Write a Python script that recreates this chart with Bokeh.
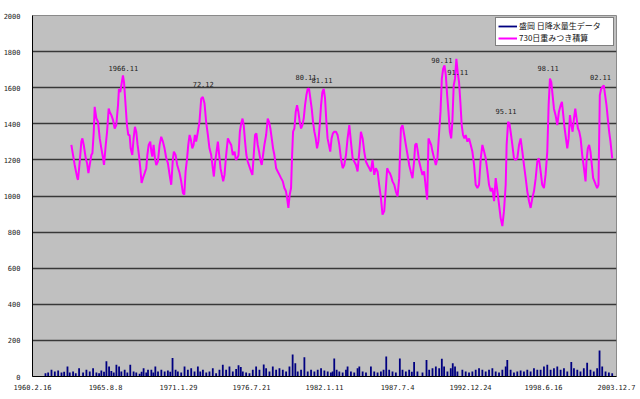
import numpy as np
from bokeh.plotting import figure
from bokeh.models import FixedTicker, Legend, LegendItem, Range1d
from bokeh.embed import file_html
from bokeh.resources import INLINE
from bokeh.core.properties import value

# ---------------- data ----------------
tick_dates = ["1960-02-16", "1965-08-08", "1971-01-29", "1976-07-21", "1982-01-11",
              "1987-07-04", "1992-12-24", "1998-06-16", "2003-12-07"]
tick_labels = ["1960.2.16", "1965.8.8", "1971.1.29", "1976.7.21", "1982.1.11",
               "1987.7.4", "1992.12.24", "1998.6.16", "2003.12.7"]
y_ticks = [0, 200, 400, 600, 800, 1000, 1200, 1400, 1600, 1800, 2000]

# 730-day weighted accumulation (decimal year, mm)
sum_years = [
    1963.04, 1963.29, 1963.49, 1963.54, 1963.67, 1963.79, 1963.87, 1963.97, 1964.12, 1964.22,
    1964.32, 1964.42, 1964.54, 1964.62, 1964.72, 1964.79, 1964.92, 1965.04, 1965.17, 1965.29,
    1965.42, 1965.49, 1965.62, 1965.72, 1965.84, 1965.92, 1966.04, 1966.17, 1966.29, 1966.41,
    1966.54, 1966.61, 1966.71, 1966.79, 1966.91, 1966.99, 1967.11, 1967.21, 1967.31, 1967.41,
    1967.49, 1967.61, 1967.71, 1967.81, 1967.91, 1968.01, 1968.11, 1968.21, 1968.31, 1968.41,
    1968.54, 1968.66, 1968.74, 1968.84, 1968.96, 1969.04, 1969.11, 1969.21, 1969.31, 1969.41,
    1969.53, 1969.66, 1969.78, 1969.91, 1970.03, 1970.16, 1970.28, 1970.41, 1970.53, 1970.66,
    1970.73, 1970.86, 1970.98, 1971.16, 1971.28, 1971.41, 1971.51, 1971.61, 1971.71, 1971.81,
    1971.91, 1972.01, 1972.11, 1972.21, 1972.31, 1972.40, 1972.53, 1972.65,
    1972.78, 1972.90, 1973.03, 1973.15, 1973.28, 1973.40, 1973.53, 1973.65, 1973.73, 1973.83,
    1973.93, 1974.03, 1974.13, 1974.23, 1974.33, 1974.43, 1974.53, 1974.65, 1974.78, 1974.90,
    1975.03, 1975.15, 1975.28, 1975.38, 1975.48, 1975.58, 1975.68, 1975.78, 1975.88, 1975.97,
    1976.07, 1976.17, 1976.27, 1976.40, 1976.52, 1976.62, 1976.72, 1976.82, 1976.92, 1977.02,
    1977.12, 1977.22, 1977.32, 1977.42, 1977.52, 1977.65, 1977.77, 1977.87, 1977.97, 1978.07,
    1978.17, 1978.27, 1978.40, 1978.52, 1978.65, 1978.77, 1978.90, 1979.02, 1979.14, 1979.22,
    1979.32, 1979.42, 1979.52, 1979.59, 1979.67, 1979.77, 1979.87, 1979.97, 1980.07, 1980.17,
    1980.27, 1980.37, 1980.47, 1980.57, 1980.67, 1980.77, 1980.87, 1980.97, 1981.07, 1981.17,
    1981.27, 1981.37, 1981.47, 1981.57, 1981.67, 1981.77, 1981.87, 1981.97, 1982.07, 1982.17,
    1982.26, 1982.36, 1982.46, 1982.56, 1982.66, 1982.76,
    1982.89, 1983.01, 1983.14, 1983.26, 1983.39, 1983.51, 1983.64, 1983.76, 1983.89, 1984.01,
    1984.14, 1984.26, 1984.39, 1984.51, 1984.64, 1984.76, 1984.89, 1985.01, 1985.135, 1985.26,
    1985.39, 1985.51, 1985.63, 1985.76, 1985.88, 1986.01, 1986.13, 1986.26, 1986.38, 1986.51,
    1986.63, 1986.73, 1986.83, 1986.93, 1987.03, 1987.13, 1987.26, 1987.38, 1987.51, 1987.63,
    1987.76, 1987.88, 1988.01, 1988.13, 1988.26, 1988.38, 1988.50, 1988.63, 1988.75, 1988.83,
    1988.93, 1989.03, 1989.13, 1989.25, 1989.38, 1989.50, 1989.63, 1989.73, 1989.83, 1989.93,
    1990.03, 1990.13, 1990.25, 1990.38, 1990.50, 1990.63, 1990.73, 1990.83, 1990.93, 1991.03,
    1991.13, 1991.23, 1991.33, 1991.43, 1991.53, 1991.62, 1991.72, 1991.82, 1991.92, 1992.02,
    1992.12, 1992.22, 1992.32, 1992.42, 1992.52, 1992.62, 1992.75, 1992.87,
    1993.00, 1993.12, 1993.25, 1993.37, 1993.50, 1993.62, 1993.75, 1993.87, 1994.00, 1994.12,
    1994.25, 1994.37, 1994.50, 1994.62, 1994.75, 1994.87, 1995.00, 1995.12, 1995.24, 1995.37,
    1995.49, 1995.62, 1995.69, 1995.80, 1995.90, 1995.99, 1996.12, 1996.24, 1996.37, 1996.49,
    1996.62, 1996.74, 1996.87, 1996.99, 1997.12, 1997.24, 1997.37, 1997.49, 1997.62, 1997.74,
    1997.87, 1997.99, 1998.11, 1998.24, 1998.36, 1998.49, 1998.61, 1998.74, 1998.84, 1998.94,
    1999.04, 1999.14, 1999.24, 1999.36, 1999.49, 1999.61, 1999.74, 1999.84, 1999.94, 2000.04,
    2000.14, 2000.24, 2000.34, 2000.44, 2000.54, 2000.64, 2000.74, 2000.84, 2000.94, 2001.04,
    2001.14, 2001.24, 2001.36, 2001.49, 2001.61, 2001.68, 2001.78, 2001.88, 2001.98, 2002.08,
    2002.18, 2002.28, 2002.38, 2002.48, 2002.58, 2002.68, 2002.78, 2002.88, 2002.98, 2003.08,
    2003.18, 2003.28, 2003.38, 2003.48, 2003.61]
sum_vals = [
    1283, 1172, 1099, 1090, 1191, 1301, 1319, 1283, 1209, 1182,
    1127, 1172, 1227, 1237, 1356, 1494, 1429, 1411, 1319, 1264,
    1209, 1172, 1283, 1356, 1484, 1466, 1448, 1420, 1374, 1393,
    1503, 1594, 1576, 1613, 1668, 1631, 1503, 1393, 1338, 1338,
    1264, 1227, 1319, 1383, 1356, 1283, 1227, 1154, 1072, 1099,
    1127, 1154, 1227, 1283, 1301, 1246, 1218, 1283, 1209, 1172,
    1191, 1283, 1328, 1301, 1264, 1209, 1182, 1117, 1062, 1209,
    1246, 1227, 1172, 1127, 1081, 1016, 1007, 1136, 1200, 1283,
    1338, 1310, 1264, 1283, 1338, 1301, 1356, 1411,
    1539, 1549, 1512, 1411, 1338, 1264, 1227, 1154, 1108, 1191,
    1246, 1301, 1227, 1154, 1117, 1081, 1117, 1227, 1319, 1301,
    1283, 1227, 1246, 1200, 1209, 1227, 1356, 1402, 1429, 1393,
    1301, 1227, 1191, 1163, 1136, 1117, 1227, 1338, 1347, 1283,
    1246, 1200, 1172, 1227, 1283, 1338, 1429, 1411, 1374, 1319,
    1264, 1227, 1154, 1136, 1117, 1099, 1081, 1044, 1026, 989,
    934, 1007, 1044, 1209, 1356, 1374, 1466, 1503, 1466, 1411,
    1374, 1393, 1429, 1503, 1558, 1594, 1594, 1539, 1484, 1411,
    1356, 1319, 1264, 1301, 1393, 1503, 1576, 1594, 1539, 1411,
    1319, 1283, 1246, 1319, 1347, 1356,
    1356, 1338, 1283, 1209, 1154, 1172, 1227, 1319, 1393, 1301,
    1209, 1191, 1172, 1136, 1246, 1356, 1319, 1246, 1191, 1172,
    1154, 1136, 1200, 1117, 1154, 1136, 1062, 989, 897, 916,
    1044, 1154, 1136, 1127, 1108, 1081, 1062, 1026, 998, 1099,
    1374, 1393, 1338, 1283, 1227, 1172, 1136, 1099, 1191, 1283,
    1292, 1246, 1191, 1154, 1117, 1136, 1044, 980, 1319, 1301,
    1283, 1246, 1209, 1172, 1209, 1356, 1466, 1650, 1705, 1723,
    1668, 1558, 1466, 1356, 1319, 1411, 1613, 1650, 1760, 1686,
    1631, 1521, 1393, 1338, 1319, 1338, 1301, 1319,
    1283, 1246, 1172, 1062, 1044, 1062, 1209, 1283, 1246, 1209,
    1136, 1062, 1026, 1044, 971, 1099, 1026, 952, 879, 833,
    916, 1062, 1283, 1411, 1402, 1356, 1283, 1209, 1200, 1209,
    1283, 1319, 1246, 1172, 1099, 1026, 971, 934, 989, 1026,
    1099, 1191, 1209, 1136, 1062, 1044, 1117, 1246, 1503, 1650,
    1631, 1558, 1484, 1448, 1393, 1466, 1503, 1521, 1448, 1374,
    1319, 1264, 1319, 1448, 1393, 1356, 1429, 1484, 1429, 1374,
    1356, 1319, 1227, 1154, 1081, 1191, 1264, 1283, 1246, 1172,
    1099, 1081, 1062, 1044, 1062, 1558, 1594, 1604, 1613, 1558,
    1503, 1429, 1356, 1301, 1209]

# daily precipitation, raw (decimal year, mm) - sampled peaks
rain_years = [
    1961.10, 1961.30, 1961.55, 1961.80, 1962.05, 1962.30, 1962.50, 1962.75, 1962.92, 1963.17,
    1963.37, 1963.62, 1963.92, 1964.17, 1964.42, 1964.67, 1964.92, 1965.12, 1965.29, 1965.49,
    1965.67, 1965.87, 1966.04, 1966.22, 1966.42, 1966.62, 1966.79, 1967.04, 1967.24, 1967.46,
    1967.71, 1967.91, 1968.16, 1968.31, 1968.46, 1968.66, 1968.79, 1969.04, 1969.19, 1969.34,
    1969.54, 1969.79, 1970.04, 1970.28, 1970.46, 1970.63, 1970.86, 1971.03, 1971.28, 1971.53,
    1971.78, 1972.03, 1972.28, 1972.53, 1972.71, 1972.91, 1973.16, 1973.40, 1973.65, 1973.90,
    1974.15, 1974.40, 1974.65, 1974.90, 1975.15, 1975.40, 1975.58, 1975.75, 1975.90, 1976.15,
    1976.40, 1976.65, 1976.90, 1977.15, 1977.47, 1977.65, 1977.90, 1978.15, 1978.40, 1978.65,
    1978.90, 1979.15, 1979.40, 1979.64, 1979.84, 1980.02, 1980.27, 1980.52, 1980.77, 1981.02,
    1981.27, 1981.52, 1981.77, 1982.02, 1982.27, 1982.51, 1982.64, 1982.76, 1982.94, 1983.14,
    1983.39, 1983.64, 1983.76, 1984.01, 1984.26, 1984.51, 1984.64, 1984.89, 1985.14, 1985.51,
    1985.76, 1986.01, 1986.26, 1986.46, 1986.66, 1986.88, 1987.13, 1987.38, 1987.68, 1987.88,
    1988.13, 1988.38, 1988.58, 1988.75, 1989.00, 1989.38, 1989.68, 1989.88, 1990.13, 1990.38,
    1990.63, 1990.83, 1991.00, 1991.25, 1991.50, 1991.65, 1991.82, 1992.00, 1992.37, 1992.62,
    1992.87, 1993.12, 1993.37, 1993.62, 1993.87, 1994.12, 1994.37, 1994.62, 1994.87, 1995.12,
    1995.37, 1995.62, 1995.74, 1995.99, 1996.24, 1996.49, 1996.74, 1996.99, 1997.24, 1997.49,
    1997.74, 1997.99, 1998.24, 1998.49, 1998.74, 1998.99, 1999.24, 1999.49, 1999.74, 1999.99,
    2000.24, 2000.54, 2000.74, 2000.99, 2001.23, 2001.48, 2001.73, 2001.98, 2002.23, 2002.48,
    2002.66, 2002.86, 2003.11, 2003.36, 2003.61]
rain_vals = [
    18, 22, 37, 28, 33, 22, 26, 55, 22, 28,
    18, 46, 22, 37, 28, 46, 22, 18, 33, 26,
    85, 55, 30, 22, 65, 55, 28, 37, 22, 65,
    28, 22, 15, 26, 46, 22, 37, 37, 22, 55,
    28, 37, 28, 33, 26, 103, 37, 28, 22, 55,
    37, 46, 28, 55, 28, 37, 22, 28, 46, 18,
    37, 65, 37, 55, 28, 41, 63, 52, 28, 22,
    18, 37, 55, 37, 66, 46, 28, 55, 37, 46,
    37, 28, 55, 122, 74, 28, 37, 107, 28, 37,
    28, 37, 46, 33, 28, 22, 28, 100, 37, 28,
    22, 37, 55, 28, 22, 46, 55, 28, 22, 55,
    28, 22, 28, 37, 111, 37, 28, 22, 100, 37,
    28, 37, 26, 81, 28, 22, 92, 37, 46, 55,
    46, 98, 55, 28, 46, 74, 55, 28, 37, 28,
    22, 28, 37, 46, 37, 28, 37, 46, 28, 22,
    37, 55, 92, 37, 22, 28, 33, 28, 37, 28,
    46, 37, 37, 55, 65, 37, 46, 55, 37, 46,
    28, 81, 46, 37, 28, 46, 76, 37, 28, 46,
    144, 55, 28, 22, 18]

label_texts = ["1966.11", "72.12", "80.11", "81.11", "90.11", "91.11", "95.11", "98.11", "02.11"]
label_years = [1966.94, 1972.93, 1980.64, 1981.84, 1990.83, 1992.02, 1995.64, 1998.80, 2002.73]
label_vals = [1708, 1618, 1658, 1645, 1756, 1686, 1470, 1710, 1662]

series_names = ["盛岡 日降水量生データ", "730日重みつき積算"]

# ---------------- conversion to day numbers ----------------
EPOCH = np.datetime64("1960-01-01")


def yday(years):
    return [(y - 1960.0) * 365.25 for y in years]


tick_days = [int((np.datetime64(d) - EPOCH).astype(int)) for d in tick_dates]

p = figure(width=640, height=399, output_backend="svg", toolbar_location=None,
           x_range=Range1d(tick_days[0], tick_days[-1]), y_range=Range1d(0, 2000),
           min_border_left=31, min_border_right=24, min_border_top=15, min_border_bottom=23,
           background_fill_color="#C0C0C0", border_fill_color="white",
           outline_line_color="#8a8a8a")

mono = "DejaVu Sans Mono"

p.xaxis.ticker = FixedTicker(ticks=tick_days)
p.xaxis.major_label_overrides = {d: l for d, l in zip(tick_days, tick_labels)}
p.yaxis.ticker = FixedTicker(ticks=y_ticks)
for ax in (p.xaxis[0], p.yaxis[0]):
    ax.axis_line_color = "black"
    ax.axis_line_width = 1
    ax.major_tick_line_color = None
    ax.minor_tick_line_color = None
    ax.major_label_text_font = mono
    ax.major_label_text_font_size = "7px"
    ax.major_label_text_color = "#222222"
    ax.major_label_standoff = 6
p.xaxis.major_label_standoff = 1

p.xgrid.grid_line_color = None
p.ygrid.ticker = FixedTicker(ticks=y_ticks[1:-1])
p.ygrid.grid_line_color = "#383838"
p.ygrid.grid_line_width = 1.6

rain_x = yday(rain_years)
rain_r = p.segment(x0=rain_x, y0=[0] * len(rain_x), x1=rain_x, y1=rain_vals,
                   line_color="#000080", line_width=1.8)

sum_r = p.line(yday(sum_years), sum_vals, line_color="#FF00FF", line_width=2)

p.text(x=yday(label_years), y=label_vals, text=label_texts,
       text_font=value(mono), text_font_size=value("7px"), text_color="#222222",
       text_align="center", text_baseline="middle")

legend = Legend(items=[LegendItem(label=series_names[0], renderers=[rain_r]),
                       LegendItem(label=series_names[1], renderers=[sum_r])],
                location="top_right")
legend.margin = 2
legend.padding = 2
legend.spacing = 1
legend.label_height = 10
legend.glyph_height = 10
legend.glyph_width = 19
legend.label_standoff = 2
legend.label_width = 92
legend.label_text_font = "Noto Sans CJK JP"
legend.label_text_font_size = "8px"
legend.label_text_color = "#111111"
legend.border_line_color = "black"
legend.border_line_width = 1
legend.background_fill_color = "white"
legend.background_fill_alpha = 1
p.add_layout(legend)

open("out.html", "w").write(file_html(p, INLINE))
